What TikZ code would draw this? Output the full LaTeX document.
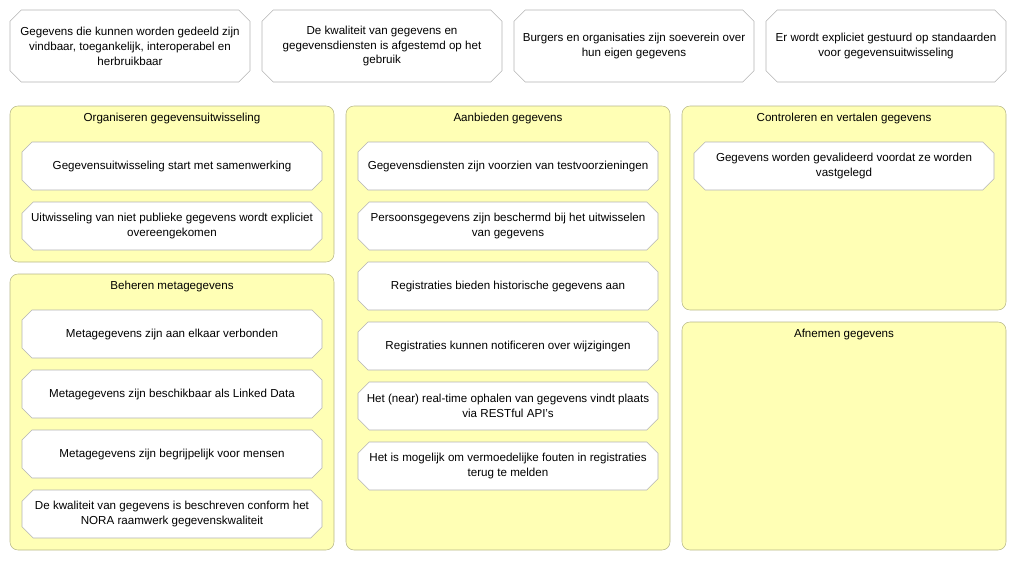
\documentclass[tikz,border=0pt]{standalone}
\usepackage{fontspec}
\setmainfont{Liberation Sans}
\usepackage{xcolor}
\usetikzlibrary{shapes.misc}
\usetikzlibrary{positioning}
\definecolor{GroupingBackground}{HTML}{FFFFB5}
\definecolor{GroupingBorder}{HTML}{B8B88A}
\definecolor{PrincipleBorder}{HTML}{B4B4B4}
\tikzstyle{PrincipleNode} =[draw=PrincipleBorder,fill=white,chamfered rectangle,chamfered rectangle xsep=5pt,inner sep=0pt,minimum width=225pt,minimum height=36pt,align=center,font=\fontsize{8.7}{11.2}\selectfont]
\tikzstyle{TopPrincipleNode} =[PrincipleNode,minimum width=180pt,minimum height=54pt]
\tikzstyle{GroupingNode} =[draw=GroupingBorder,fill=GroupingBackground,rounded corners=6pt,minimum width=243pt,inner sep=0pt]
\tikzstyle{GroupingTitle} =[font=\fontsize{8.7}{11.2}\selectfont,inner sep=0pt]

\begin{document}
\begin{tikzpicture}[x=0.75pt,y=-0.75pt,node distance=45pt,on grid,thin]
    \useasboundingbox (0,0) rectangle (1017,561);

    % principles above the groups
    \node[TopPrincipleNode](Vindbaar) at (130,46){Gegevens die kunnen worden gedeeld zijn\\ vindbaar, toegankelijk, interoperabel en\\ herbruikbaar};
    \node[TopPrincipleNode,right=189pt of Vindbaar](Afgestemd){De kwaliteit van gegevens en\\ gegevensdiensten is afgestemd op het\\ gebruik};
    \node[TopPrincipleNode,right=189pt of Afgestemd](Soeverein){Burgers en organisaties zijn soeverein over\\ hun eigen gegevens};
    \node[TopPrincipleNode,right=189pt of Soeverein](Standaarden){Er wordt expliciet gestuurd op standaarden\\ voor gegevensuitwisseling};

    % groups
    \node[GroupingNode,minimum height=117pt](Organiseren) at (172,184){};
    \node[GroupingNode,minimum height=207pt](Beheren) at (172,412){};
    \node[GroupingNode,minimum height=333pt](Aanbieden) at (508,328){};
    \node[GroupingNode,minimum height=153pt](Controleren) at (844,208){};
    \node[GroupingNode,minimum height=171pt](Afnemen) at (844,436){};

    \node[GroupingTitle,below=5.5pt of Organiseren.north](Organiseren-Title){Organiseren gegevensuitwisseling};
    \node[GroupingTitle,below=5.5pt of Beheren.north](Beheren-Title){Beheren metagegevens};
    \node[GroupingTitle,below=5.5pt of Aanbieden.north](Aanbieden-Title){Aanbieden gegevens};
    \node[GroupingTitle,below=5.5pt of Controleren.north](Controleren-Title){Controleren en vertalen gegevens};
    \node[GroupingTitle,below=5.5pt of Afnemen.north](Afnemen-Title){Afnemen gegevens};

    % Organiseren gegevensuitwisseling
    \node[PrincipleNode,below=27pt of Organiseren.north](Samenwerking){Gegevensuitwisseling start met samenwerking};
    \node[PrincipleNode,below=of Samenwerking](Overeengekomen){Uitwisseling van niet publieke gegevens wordt expliciet\\ overeengekomen};

    % Beheren metagegevens
    \node[PrincipleNode,below=27pt of Beheren.north](Verbonden){Metagegevens zijn aan elkaar verbonden};
    \node[PrincipleNode,below=of Verbonden](Linked-Data){Metagegevens zijn beschikbaar als Linked Data};
    \node[PrincipleNode,below=of Linked-Data](Begrijpelijk){Metagegevens zijn begrijpelijk voor mensen};
    \node[PrincipleNode,below=of Begrijpelijk](NORA){De kwaliteit van gegevens is beschreven conform het\\ NORA raamwerk gegevenskwaliteit};

    % Aanbieden gegevens
    \node[PrincipleNode,below=27pt of Aanbieden.north](Testvoorzieningen){Gegevensdiensten zijn voorzien van testvoorzieningen};
    \node[PrincipleNode,below=of Testvoorzieningen](Persoonsgegevens){Persoonsgegevens zijn beschermd bij het uitwisselen\\ van gegevens};
    \node[PrincipleNode,below=of Persoonsgegevens](Historisch){Registraties bieden historische gegevens aan};
    \node[PrincipleNode,below=of Historisch](Notificeren){Registraties kunnen notificeren over wijzigingen};
    \node[PrincipleNode,below=of Notificeren](RESTful){Het (near) real-time ophalen van gegevens vindt plaats\\ via RESTful API's};
    \node[PrincipleNode,below=of RESTful](Terugmelden){Het is mogelijk om vermoedelijke fouten in registraties\\ terug te melden};

    % Controleren en vertalen gegevens
    \node[PrincipleNode,below=27pt of Controleren.north](Gevalideerd){Gegevens worden gevalideerd voordat ze worden\\ vastgelegd};
\end{tikzpicture}
\end{document}
